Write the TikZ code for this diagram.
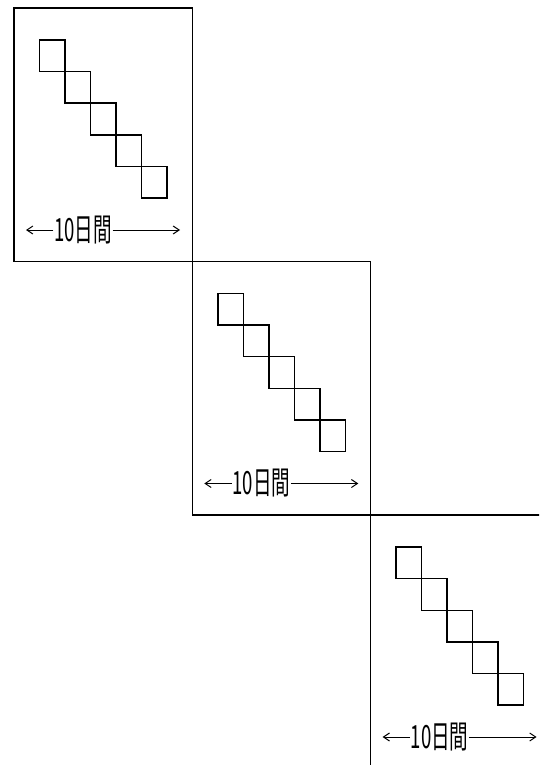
\documentclass[tikz,border=0pt]{standalone}
\usepackage{fontspec}
\newfontfamily\jpfont{Noto Sans CJK JP}
\usetikzlibrary{arrows.meta}
\begin{document}
\begin{tikzpicture}[x=1pt,y=-1pt,
    panel/.style={draw,line width=1.4pt,minimum width=178.3pt,minimum height=253.5pt,inner sep=0pt},
    sq/.style={draw,line width=1.4pt,minimum width=25.5pt,minimum height=31.6pt,inner sep=0pt},
    span/.style={font=\jpfont\fontsize{32}{32}\selectfont,xscale=0.58,inner sep=1pt},
    days/.style={-{Straight Barb[length=6pt,width=8pt]},line width=1pt}]
  \clip (0,0) rectangle (539,765);
  \def\x{178.3}
  \def\y{253.5}
  \def\w{25.5}
  \def\h{31.6}
  \begin{scope}[shift={(14,8)}]
    % panels
    \node[panel] (P0) at (0*\x+89.15, 0*\y+126.75) {};
    \node[panel] (P1) at (1*\x+89.15, 1*\y+126.75) {};
    \node[panel] (P2) at (2*\x+89.15, 2*\y+126.75) {};
    % squares
    \node[sq] (S0_0) at (0*\x+38.25+0*\w, 0*\y+47.8+0*\h) {};
    \node[sq] (S0_1) at (0*\x+38.25+1*\w, 0*\y+47.8+1*\h) {};
    \node[sq] (S0_2) at (0*\x+38.25+2*\w, 0*\y+47.8+2*\h) {};
    \node[sq] (S0_3) at (0*\x+38.25+3*\w, 0*\y+47.8+3*\h) {};
    \node[sq] (S0_4) at (0*\x+38.25+4*\w, 0*\y+47.8+4*\h) {};
    \node[sq] (S1_0) at (1*\x+38.25+0*\w, 1*\y+47.8+0*\h) {};
    \node[sq] (S1_1) at (1*\x+38.25+1*\w, 1*\y+47.8+1*\h) {};
    \node[sq] (S1_2) at (1*\x+38.25+2*\w, 1*\y+47.8+2*\h) {};
    \node[sq] (S1_3) at (1*\x+38.25+3*\w, 1*\y+47.8+3*\h) {};
    \node[sq] (S1_4) at (1*\x+38.25+4*\w, 1*\y+47.8+4*\h) {};
    \node[sq] (S2_0) at (2*\x+38.25+0*\w, 2*\y+47.8+0*\h) {};
    \node[sq] (S2_1) at (2*\x+38.25+1*\w, 2*\y+47.8+1*\h) {};
    \node[sq] (S2_2) at (2*\x+38.25+2*\w, 2*\y+47.8+2*\h) {};
    \node[sq] (S2_3) at (2*\x+38.25+3*\w, 2*\y+47.8+3*\h) {};
    \node[sq] (S2_4) at (2*\x+38.25+4*\w, 2*\y+47.8+4*\h) {};
    % spans
    \node[span] (T0) at (0*\x+69, 0*\y+222) {10日間};
    \node[span] (T1) at (1*\x+69, 1*\y+222) {10日間};
    \node[span] (T2) at (2*\x+69, 2*\y+222) {10日間};
    \coordinate (L0) at (0*\x+12, 0*\y+222);
    \coordinate (R0) at (0*\x+166, 0*\y+222);
    \coordinate (L1) at (1*\x+12, 1*\y+222);
    \coordinate (R1) at (1*\x+166, 1*\y+222);
    \coordinate (L2) at (2*\x+12, 2*\y+222);
    \coordinate (R2) at (2*\x+166, 2*\y+222);
    \draw[days] (T0.west) -- (L0);
    \draw[days] (T0.east) -- (R0);
    \draw[days] (T1.west) -- (L1);
    \draw[days] (T1.east) -- (R1);
    \draw[days] (T2.west) -- (L2);
    \draw[days] (T2.east) -- (R2);
  \end{scope}
\end{tikzpicture}
\end{document}
